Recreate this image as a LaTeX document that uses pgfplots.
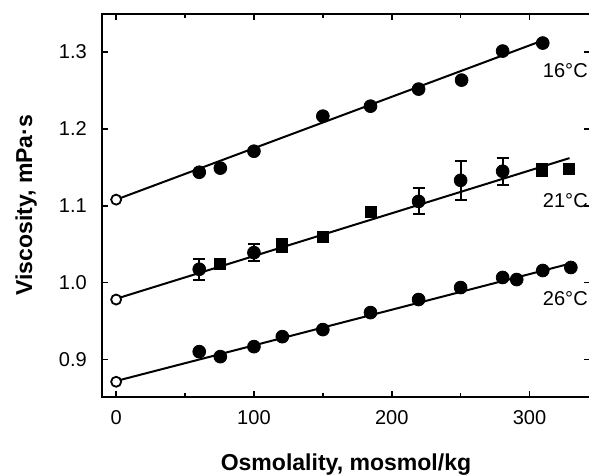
\documentclass[border=0pt]{standalone}
\usepackage{pgfplots}
\pgfplotsset{compat=1.18}
\usepackage{fontspec}
\setmainfont{Liberation Sans}
\begin{document}
\begin{tikzpicture}
\useasboundingbox (-51pt,-39pt) rectangle (243.1pt,198pt);
\begin{axis}[
  scale only axis, width=243.5pt, height=191pt,
  at={(0,0)}, anchor=south west,
  xmin=-10.17, xmax=343.75, ymin=0.8518, ymax=1.3495,
  xtick={0,100,200,300}, minor xtick={50,150,250},
  ytick={0.9,1.0,1.1,1.2,1.3},
  tick align=inside, major tick length=3pt, minor tick length=2pt,
  axis line style={line width=1pt},
  every tick/.style={black, line width=0.8pt},
  /pgf/number format/assume math mode=true,
  yticklabel style={/pgf/number format/fixed, /pgf/number format/fixed zerofill, /pgf/number format/precision=1},
  ticklabel style={font=\fontsize{10}{12}\selectfont},
  xticklabel style={anchor=center, yshift=-10.5pt},
  yticklabel style={anchor=east, inner sep=0pt, xshift=-7.5pt},
  xlabel={Osmolality, mosmol/kg},
  ylabel={Viscosity, mPa·s},
  label style={font=\fontsize{11.5}{13}\selectfont\bfseries},
  xlabel style={at={(axis description cs:0.5,-0.1937)}, anchor=base},
  ylabel style={at={(axis description cs:-0.1437,0.5)}, anchor=base},
  clip=false,
]
% fit lines
\addplot[black, line width=1pt] coordinates {(0,1.108) (305,1.312)};
\addplot[black, line width=1pt] coordinates {(0,0.979) (329,1.162)};
\addplot[black, line width=1pt] coordinates {(0,0.872) (330,1.025)};
% open circles at 0
\addplot[only marks, mark=*, mark size=2.5pt, mark options={fill=white, draw=black, line width=0.9pt}]
  coordinates {(0,1.108) (0,0.978) (0,0.871)};
% 16 C
\addplot[only marks, mark=*, mark size=3.2pt, black] coordinates {
 (60.3,1.1436) (75.6,1.149) (100,1.171) (150,1.2166) (184.6,1.2296)
 (219.5,1.2518) (250.7,1.2635) (280.5,1.3013) (309.6,1.3117)};
% 21 C circles with error bars
\addplot[only marks, mark=*, mark size=3.2pt, black,
  error bars/.cd, y dir=both, y explicit,
  error bar style={line width=1pt},
  error mark options={rotate=90, mark size=3pt, line width=1pt}]
  coordinates {
 (60.3,1.0174) +- (0,0.0134)
 (100,1.039) +- (0,0.011)
 (219.5,1.1057) +- (0,0.017)
 (250,1.1331) +- (0,0.025)
 (280.5,1.1449) +- (0,0.0176)};
% 21 C squares with error bars
\addplot[only marks, mark=square*, mark size=2.75pt, black,
  error bars/.cd, y dir=both, y explicit,
  error bar style={line width=1pt},
  error mark options={rotate=90, mark size=3pt, line width=1pt}]
  coordinates {
 (75.6,1.0249) +- (0,0.006)
 (120.6,1.0484) +- (0,0.0085)
 (150,1.0601) +- (0,0.004)
 (184.6,1.0914) +- (0,0.004)
 (309,1.1462) +- (0,0.008)
 (328.5,1.1475) +- (0,0.004)};
% 26 C
\addplot[only marks, mark=*, mark size=3.2pt, black] coordinates {
 (60.3,0.9102) (75.6,0.9037) (100,0.9167) (120.6,0.9297) (150,0.9389)
 (184.6,0.961) (219.5,0.978) (250,0.9936) (280.5,1.0067) (290.7,1.004)
 (309.6,1.0158) (330,1.0197)};
\node[font=\fontsize{10}{12}\selectfont] at (axis cs:326,1.2765) {16°C};
\node[font=\fontsize{10}{12}\selectfont] at (axis cs:326,1.107) {21°C};
\node[font=\fontsize{10}{12}\selectfont] at (axis cs:326,0.9793) {26°C};
\end{axis}
\end{tikzpicture}
\end{document}
